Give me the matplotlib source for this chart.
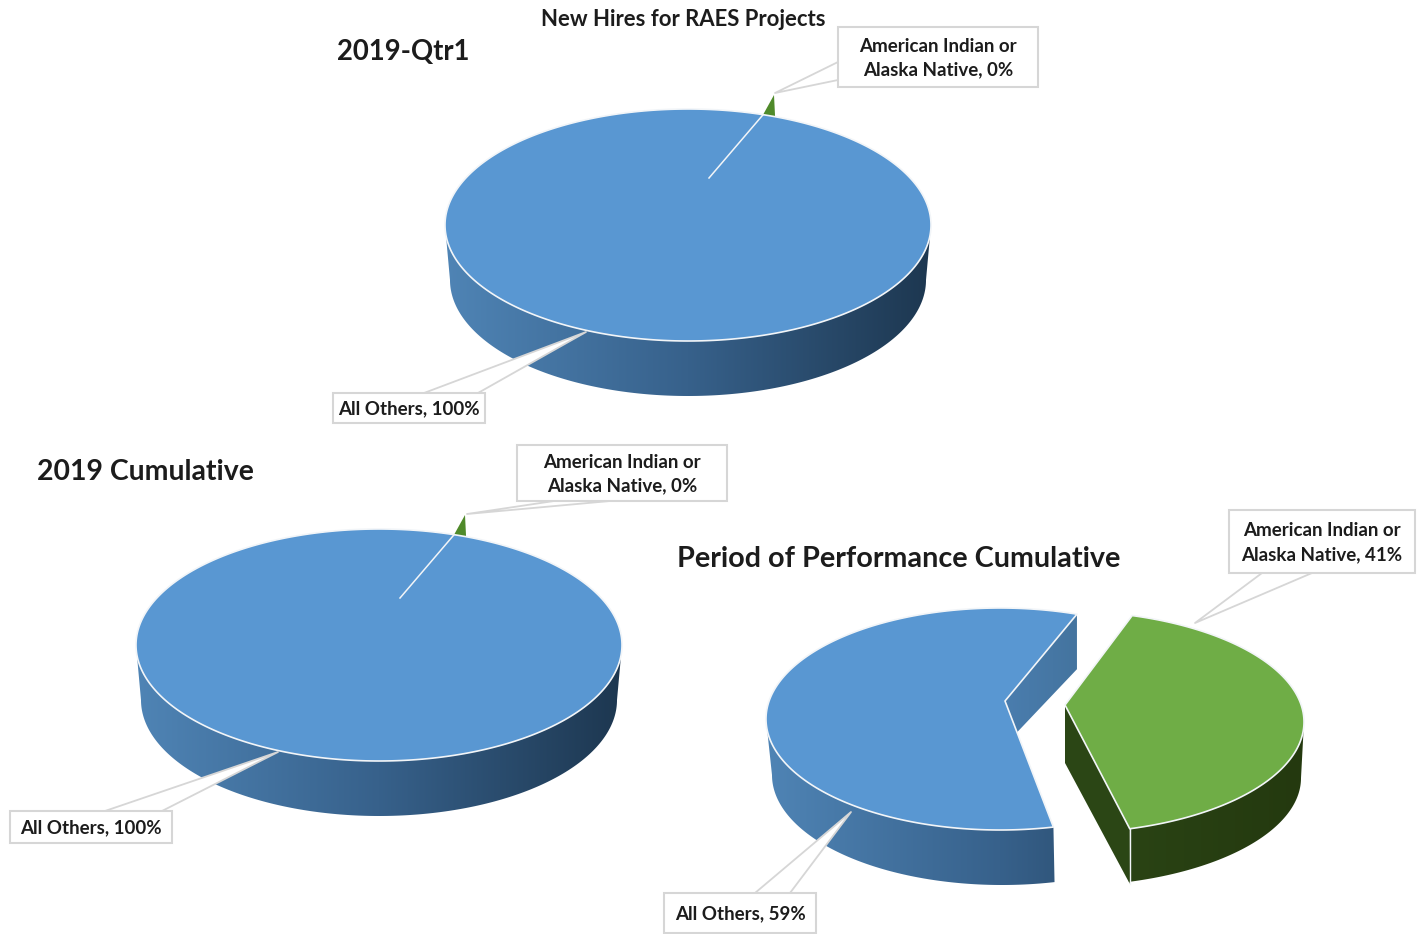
import numpy as np
import matplotlib
matplotlib.use("Agg")
import matplotlib.pyplot as plt
from matplotlib.colors import LinearSegmentedColormap
from matplotlib.patches import Polygon, Rectangle

# ---- data ----
categories = ["All Others", "American Indian or\nAlaska Native"]
qtr1_values = [99.6, 0.4]
cumulative_values = [99.6, 0.4]
performance_values = [59, 41]
chart_title = "New Hires for RAES Projects"
panel_titles = ["2019-Qtr1", "2019 Cumulative", "Period of Performance Cumulative"]

W, H = 1421, 934
BLUE, GREEN, SLIVER = "#5997d2", "#6fad46", "#4f8a2a"
EDGE = "#f2f5f8"
BOX = "#d6d6d6"
INK = "#1c1c1c"
FONT = "Lato"

blue_wall = LinearSegmentedColormap.from_list("bw", ["#4f84b5", "#37618b", "#1d3750"])
green_wall = LinearSegmentedColormap.from_list("gw", ["#3a5a1e", "#2c4716", "#24390f"])

fig = plt.figure(figsize=(W / 100, H / 100), dpi=100, facecolor="white")
ax = fig.add_axes([0, 0, 1, 1])


def rim(cx, cy, rx, ry, a, b, n=240):
    t = np.radians(np.linspace(a, b, n))
    return np.column_stack([cx + rx * np.cos(t), cy - ry * np.sin(t)])


def gradient_wall(poly_pts, x0, x1, y0, y1, cmap, z):
    im = ax.imshow(np.linspace(0, 1, 256)[None, :], extent=(x0, x1, y1, y0),
                   cmap=cmap, aspect="auto", zorder=z, interpolation="bilinear")
    patch = Polygon(poly_pts, closed=True, transform=ax.transData, fc="none", ec="none")
    ax.add_patch(patch)
    im.set_clip_path(patch)


def wall(top, bottom, a, b, cmap, z=2):
    """Curved outer wall between the top rim and the lower rim, for params a..b."""
    p1 = rim(*top, a, b)
    p2 = rim(*bottom, a, b)
    pts = np.vstack([p1, p2[::-1]])
    gradient_wall(pts, top[0] - top[2], top[0] + top[2],
                  top[1] - top[3], bottom[1] + bottom[3] + 2, cmap, z)


def callout(box, wedge, text, fs=13.5):
    x0, y0, x1, y1 = box
    a, b, tip = wedge
    ax.add_patch(Polygon([a, b, tip], closed=True, fc="white", ec="none", zorder=6))
    ax.plot([a[0], tip[0], b[0]], [a[1], tip[1], b[1]], color=BOX, lw=1.3, zorder=6.1)
    ax.add_patch(Rectangle((x0, y0), x1 - x0, y1 - y0, fc="white", ec=BOX, lw=1.5, zorder=7))
    ax.text((x0 + x1) / 2, (y0 + y1) / 2 + 1, text, ha="center", va="center", ma="center",
            fontsize=fs, fontweight="bold", family=FONT, color=INK, zorder=8, linespacing=1.5)


def label(i, values):
    return f"{categories[i]}, {round(values[i])}%"


def full_pie(cx, cy, values):
    rx, ry, depth = 243, 116, 55
    top = (cx, cy, rx, ry)
    bottom = (cx, cy + depth, rx - 5, ry)
    # small slice, pulled up out of the disc behind the top surface
    start = 72.0
    sweep = max(values[1] * 3.6, 3.0)
    b1, b2 = rim(cx, cy, rx, ry, start, start - sweep, 2)
    ax.add_patch(Polygon([b1, (cx + 86, cy - 130), b2, (cx + 60, cy - 90)], closed=True,
                         fc=SLIVER, ec="none", zorder=1))
    wall(top, bottom, 180, 360, blue_wall)
    t = rim(*top, 0, 360, 400)
    ax.add_patch(Polygon(t, closed=True, fc=BLUE, ec=EDGE, lw=1.2, zorder=4))
    ax.plot([cx + 21, b1[0]], [cy - 47, b1[1]], color=EDGE, lw=1.1, zorder=5)


# ---- first two pies ----
full_pie(688, 225, qtr1_values)
full_pie(379, 645, cumulative_values)

# ---- exploded pie ----
blue_top = (1000, 719, 234, 111)
blue_bot = (1002, 775, 230, 110)
blue_pivot = (1005, 701)
blue_start = 70.8
blue_end = blue_start + performance_values[0] * 3.6
wall(blue_top, blue_bot, 180, blue_end, blue_wall)
corner = rim(*blue_top, blue_start, blue_start, 1)[0]
gradient_wall([corner, (corner[0], corner[1] + 55), (blue_pivot[0], blue_pivot[1] + 44), blue_pivot],
              blue_pivot[0], corner[0], corner[1], blue_pivot[1] + 60,
              LinearSegmentedColormap.from_list("bc", ["#4a7dae", "#44749f"]), 2)
pts = np.vstack([[blue_pivot], rim(*blue_top, blue_start, blue_end)])
ax.add_patch(Polygon(pts, closed=True, fc=BLUE, ec=EDGE, lw=1.2, zorder=4, joinstyle="round"))

green_top = (1064, 722, 240, 111)
green_bot = (1064, 778, 237, 108)
green_pivot = (1065, 705)
green_start = 73.5
green_end = green_start - performance_values[1] * 3.6
front = rim(*green_top, green_end, green_end, 1)[0]
front_low = (front[0], front[1] + 55)
ax.add_patch(Polygon([green_pivot, (green_pivot[0], green_pivot[1] + 58), front_low, front],
                     closed=True, fc="#2b4615", ec="none", zorder=2))
wall(green_top, green_bot, green_end, 0, green_wall)
ax.plot([front[0], front_low[0]], [front[1], front_low[1]], color=EDGE, lw=1.0, zorder=3)
pts = np.vstack([[green_pivot], rim(*green_top, green_start, green_end)])
ax.add_patch(Polygon(pts, closed=True, fc=GREEN, ec=EDGE, lw=1.2, zorder=4, joinstyle="round"))

# ---- callouts ----
callout((838, 27, 1038, 87), ((838, 62), (838, 80), (775, 93)), label(1, qtr1_values))
callout((333, 393, 485, 423), ((424, 393), (478, 393), (586, 332)), label(0, qtr1_values))
callout((517, 445, 727, 501), ((554, 501), (610, 501), (467, 514)), label(1, cumulative_values))
callout((10, 811, 172, 843), ((105, 811), (162, 811), (278, 752)), label(0, cumulative_values))
callout((1229, 510, 1415, 573), ((1262, 573), (1312, 573), (1195, 623)), label(1, performance_values))
callout((664, 893, 816, 933), ((755, 893), (790, 893), (851, 812)), label(0, performance_values))

# ---- titles ----
ax.text(683, 19, chart_title, ha="center", va="center", fontsize=15.9, fontweight="bold",
        family=FONT, color=INK, zorder=9)
ax.text(403, 52, panel_titles[0], ha="center", va="center", fontsize=19.8, fontweight="bold",
        family=FONT, color=INK, zorder=9)
ax.text(145, 472, panel_titles[1], ha="center", va="center", fontsize=20.4, fontweight="bold",
        family=FONT, color=INK, zorder=9)
ax.text(899, 559, panel_titles[2], ha="center", va="center", fontsize=20.7, fontweight="bold",
        family=FONT, color=INK, zorder=9)

ax.set_xlim(0, W)
ax.set_ylim(H, 0)
ax.axis("off")
fig.savefig("out.png", dpi=100, facecolor="white")
